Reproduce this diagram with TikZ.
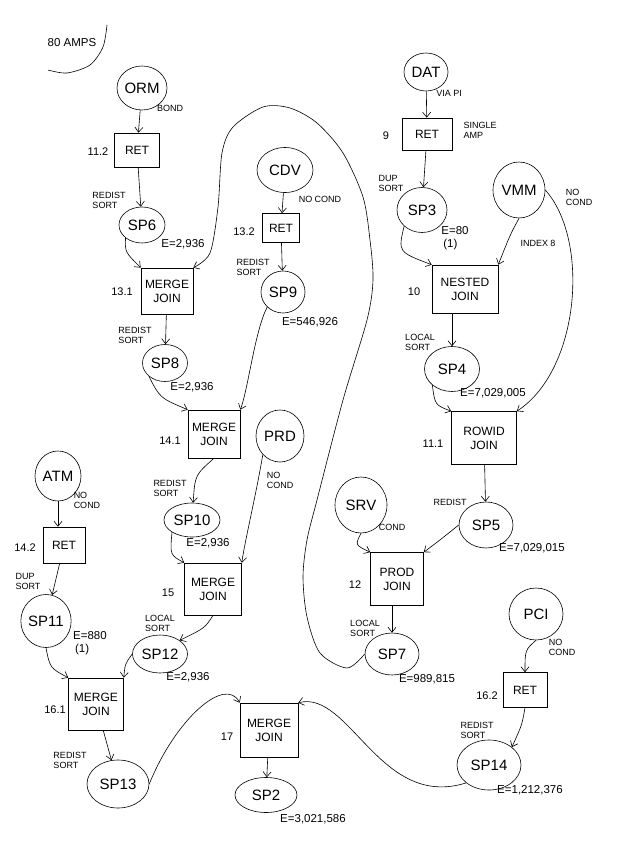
\documentclass[tikz,border=0pt]{standalone}
\usepackage{fontspec}
\setmainfont{Liberation Sans}
\usetikzlibrary{arrows.meta,shapes.geometric}

\begin{document}
\begin{tikzpicture}[x=1pt, y=-1pt, >={Straight Barb[length=5pt,width=8pt]},
    line width=0.6pt,
    tbl/.style={draw, ellipse, inner sep=0pt, font=\fontsize{15}{16}\selectfont},
    op/.style={draw, rectangle, inner sep=0pt, align=center, font=\fontsize{12}{14}\selectfont},
    stepno/.style={font=\fontsize{11}{12}\selectfont},
    note/.style={align=left, font=\fontsize{9}{10}\selectfont},
    est/.style={align=left, font=\fontsize{11.5}{12.5}\selectfont}]
    \useasboundingbox (0,0) rectangle (629,848);

    % Header
    \node[est] (amps) at (72,43) {80 AMPS};
    \draw plot[smooth] coordinates {(107,25) (103,47) (90,65) (67,73) (48,70)};

    % Left branch: ORM
    \node[tbl, minimum width=50, minimum height=44] (orm) at (142,88) {ORM};
    \node[note] (ormc) at (170,108) {BOND};
    \node[op, minimum width=45, minimum height=34] (ret1) at (137,150) {RET};
    \node[stepno] (n112) at (98,152) {11.2};
    \node[note] (rs1) at (109,200) {REDIST\\SORT};
    \node[tbl, minimum width=46, minimum height=36] (sp6) at (142,225) {SP6};
    \node[est] (e6) at (183,244) {E=2,936};
    \draw[->] (orm) -- (ret1);
    \draw[->] (ret1) -- (sp6);

    % CDV
    \node[tbl, minimum width=56, minimum height=45] (cdv) at (285,170) {CDV};
    \node[note] (cdvc) at (320,199) {NO COND};
    \node[op, minimum width=37, minimum height=29] (ret2) at (281,228) {RET};
    \node[stepno] (n132) at (244,232) {13.2};
    \node[note] (rs2) at (253,267) {REDIST\\SORT};
    \node[tbl, minimum width=44, minimum height=42] (sp9) at (283,292) {SP9};
    \node[est] (e9) at (310,322) {E=546,926};
    \draw[->] (cdv) -- (ret2);
    \draw[->] (ret2) -- (sp9);

    % Merge join 13.1
    \node[op, minimum width=52, minimum height=46] (mj13) at (167,291) {MERGE\\JOIN};
    \node[stepno] (n131) at (122,292) {13.1};
    \draw[->] (sp6.south west) .. controls (125,252) .. (mj13.north west);
    \node[note] (rs3) at (135,335) {REDIST\\SORT};
    \node[tbl, minimum width=45, minimum height=37] (sp8) at (165,363) {SP8};
    \node[est] (e8) at (192,387) {E=2,936};
    \draw[->] (mj13) -- (sp8);

    % Merge join 14.1
    \node[op, minimum width=52, minimum height=48] (mj14) at (214,434) {MERGE\\JOIN};
    \node[stepno] (n141) at (170,441) {14.1};
    \draw[->] (sp8.south west) .. controls (160,398) .. (mj14.north west);
    \draw[->] (sp9.south west) .. controls (255,330) and (248,390) .. (mj14.north east);
    \node[tbl, minimum width=48, minimum height=52] (prd) at (280,436) {PRD};
    \node[note] (prdc) at (280,480) {NO\\COND};
    \node[note] (rs4) at (170,488) {REDIST\\SORT};
    \node[tbl, minimum width=56, minimum height=34] (sp10) at (192,520) {SP10};
    \node[est] (e10) at (208,543) {E=2,936};
    \draw[->] (mj14.south) .. controls (195,475) .. (sp10);

    % ATM
    \node[tbl, minimum width=46, minimum height=50] (atm) at (58,476) {ATM};
    \node[note] (atmc) at (87,500) {NO\\COND};
    \node[op, minimum width=42, minimum height=36] (ret3) at (64,545) {RET};
    \node[stepno] (n142) at (25,548) {14.2};
    \node[note] (ds1) at (28,581) {DUP\\SORT};
    \node[tbl, minimum width=46, minimum height=53] (sp11) at (46,621) {SP11};
    \node[est] (e11) at (90,643) {E=880\\\,(1)};
    \draw[->] (atm) -- (ret3.north -| atm);
    \draw[->] (ret3) -- (sp11);

    % Merge join 15
    \node[op, minimum width=57, minimum height=52] (mj15) at (213,589) {MERGE\\JOIN};
    \node[stepno] (n15) at (168,593) {15};
    \draw[->] (sp10.south west) .. controls (170,555) .. (mj15.north west);
    \draw[->] (prd.south west) .. controls (255,500) and (245,540) .. (mj15.north east);
    \node[note] (ls1) at (160,623) {LOCAL\\SORT};
    \node[tbl, minimum width=55, minimum height=38] (sp12) at (160,654) {SP12};
    \node[est] (e12) at (188,677) {E=2,936};
    \draw[->] (mj15.south) .. controls (205,628) .. (sp12.north east);

    % Merge join 16.1
    \node[op, minimum width=55, minimum height=52] (mj16) at (96,704) {MERGE\\JOIN};
    \node[stepno] (n161) at (55,710) {16.1};
    \draw[->] (sp11.south) .. controls (50,668) .. (mj16.north west);
    \draw[->] (sp12.west) .. controls (125,664) .. (mj16.north east);
    \node[note] (rs5) at (70,760) {REDIST\\SORT};
    \node[tbl, minimum width=62, minimum height=48] (sp13) at (118,784) {SP13};
    \draw[->] (mj16) -- (sp13);

    % Merge join 17
    \node[op, minimum width=58, minimum height=54] (mj17) at (269,730) {MERGE\\JOIN};
    \node[stepno] (n17) at (227,737) {17};
    \node[tbl, minimum width=62, minimum height=35] (sp2) at (266,795) {SP2};
    \node[est] (e2) at (313,819) {E=3,021,586};
    \draw[->] (mj17) -- (sp2);
    \draw[->] (sp13.east) .. controls (175,720) and (225,675) .. (mj17.north west);

    % Right branch: DAT
    \node[tbl, minimum width=44, minimum height=38] (dat) at (426,72) {DAT};
    \node[note] (datc) at (449,93) {VIA PI};
    \node[op, minimum width=50, minimum height=32] (ret4) at (427,134) {RET};
    \node[stepno] (n9) at (386,136) {9};
    \node[note] (sa) at (480,130) {SINGLE\\AMP};
    \node[note] (ds2) at (391,183) {DUP\\SORT};
    \node[tbl, minimum width=50, minimum height=45] (sp3) at (422,210) {SP3};
    \node[est] (e3) at (455,238) {E=80\\\,(1)};
    \draw[->] (dat) -- (ret4);
    \draw[->] (ret4) -- (sp3);

    % VMM
    \node[tbl, minimum width=52, minimum height=56] (vmm) at (519,190) {VMM};
    \node[note] (vmmc) at (579,197) {NO\\COND};
    \node[note] (idx) at (538,243) {INDEX 8};

    % Nested join 10
    \node[op, minimum width=66, minimum height=48] (nj10) at (465,289) {NESTED\\JOIN};
    \node[stepno] (n10) at (414,292) {10};
    \draw[->] (sp3.south west) .. controls (398,252) .. (nj10.north west);
    \draw[->] (vmm.south) .. controls (510,235) .. (nj10.north east);
    \node[note] (ls2) at (420,342) {LOCAL\\SORT};
    \node[tbl, minimum width=55, minimum height=45] (sp4) at (452,369) {SP4};
    \node[est] (e4) at (493,393) {E=7,029,005};
    \draw[->] (nj10.south -| sp4) -- (sp4);

    % Rowid join 11.1
    \node[op, minimum width=65, minimum height=53] (rj11) at (484,438) {ROWID\\JOIN};
    \node[stepno] (n111) at (433,444) {11.1};
    \draw[->] (sp4.south west) .. controls (435,405) .. (rj11.north west);
    \draw[->] (vmm.east) .. controls (590,240) and (580,370) .. (rj11.north east);
    \node[note] (rd) at (450,502) {REDIST};
    \node[tbl, minimum width=54, minimum height=46] (sp5) at (486,525) {SP5};
    \node[est] (e5) at (532,548) {E=7,029,015};
    \draw[->] (rj11) -- (sp5);

    % Prod join 12
    \node[tbl, minimum width=52, minimum height=56] (srv) at (361,505) {SRV};
    \node[note] (srvc) at (392,527) {COND};
    \node[op, minimum width=53, minimum height=53] (pj12) at (397,579) {PROD\\JOIN};
    \node[stepno] (n12) at (355,585) {12};
    \draw[->] (srv.south) .. controls (355,545) .. (pj12.north west);
    \draw[->] (sp5.west) .. controls (440,540) .. (pj12.north east);
    \node[note] (ls3) at (365,628) {LOCAL\\SORT};
    \node[tbl, minimum width=54, minimum height=42] (sp7) at (392,654) {SP7};
    \node[est] (e7) at (427,679) {E=989,815};
    \draw[->] (pj12.south -| sp7) -- (sp7);

    % Long loop from SP7 back up to merge join 13.1
    \draw[->] plot[smooth] coordinates {(sp7.west) (347,668) (320,653) (307,617) (303,577)
        (307,540) (317,500) (343,400) (367,320) (373,280) (370,240) (363,197) (343,153)
        (317,123) (290,108) (263,107) (233,127) (222,153) (218,207) (210,253) (mj13.north east)};

    % PCI
    \node[tbl, minimum width=54, minimum height=52] (pci) at (536,614) {PCI};
    \node[note] (pcic) at (562,647) {NO\\COND};
    \node[op, minimum width=44, minimum height=35] (ret5) at (525,690) {RET};
    \node[stepno] (n162) at (487,696) {16.2};
    \node[note] (rs6) at (477,730) {REDIST\\SORT};
    \node[tbl, minimum width=64, minimum height=50] (sp14) at (489,765) {SP14};
    \node[est] (e14) at (530,790) {E=1,212,376};
    \draw[->] (pci.south) .. controls (525,650) .. (ret5.north);
    \draw[->] (ret5.south) .. controls (522,725) .. (sp14.north east);
    \draw[->] (sp14.south west) .. controls (380,810) and (350,690) .. (mj17.north east);

\end{tikzpicture}
\end{document}
